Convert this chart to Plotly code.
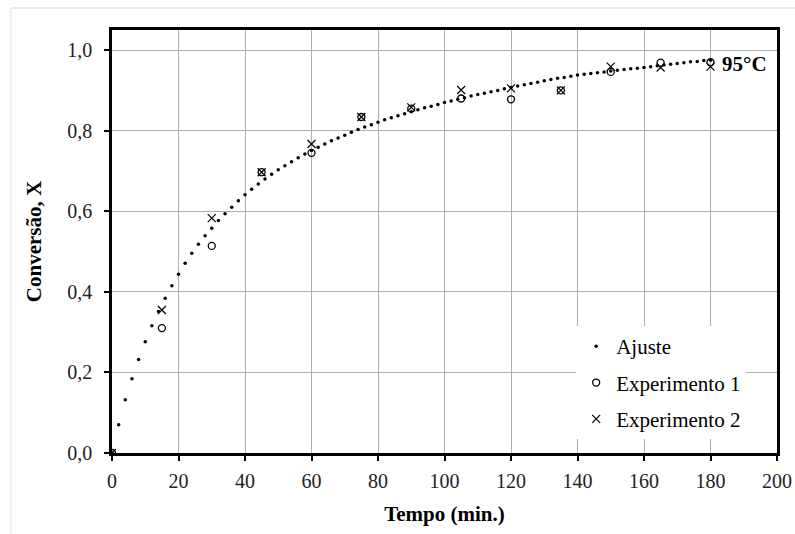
import plotly.graph_objects as go

# Fitted conversion curve (every 2 min)
fit_time = list(range(0, 182, 2))
fit_conv = [
    0.000, 0.070, 0.132, 0.184, 0.232, 0.276, 0.316, 0.351, 0.384, 0.415,
    0.444, 0.471, 0.496, 0.518, 0.539, 0.558, 0.577, 0.594, 0.610, 0.626,
    0.641, 0.655, 0.668, 0.680, 0.692, 0.703, 0.713, 0.723, 0.733, 0.742,
    0.751, 0.759, 0.767, 0.775, 0.782, 0.789, 0.796, 0.803, 0.809, 0.815,
    0.821, 0.827, 0.832, 0.837, 0.842, 0.847, 0.852, 0.857, 0.861, 0.865,
    0.870, 0.874, 0.878, 0.882, 0.886, 0.890, 0.893, 0.897, 0.900, 0.904,
    0.907, 0.911, 0.914, 0.917, 0.920, 0.924, 0.927, 0.930, 0.932, 0.935,
    0.938, 0.940, 0.942, 0.944, 0.946, 0.948, 0.950, 0.952, 0.954, 0.955,
    0.957, 0.959, 0.961, 0.963, 0.965, 0.967, 0.969, 0.971, 0.972, 0.974,
    0.975,
]

# Experimental sampling times (min)
exp_time = [0, 15, 30, 45, 60, 75, 90, 105, 120, 135, 150, 165, 180]
exp1_conv = [0.0, 0.310, 0.514, 0.697, 0.745, 0.834, 0.855, 0.880, 0.878, 0.900, 0.946, 0.969, 0.970]
exp2_conv = [0.0, 0.355, 0.583, 0.697, 0.767, 0.834, 0.858, 0.901, 0.905, 0.900, 0.959, 0.957, 0.959]

x_ticks = list(range(0, 201, 20))
y_ticks = [0.0, 0.2, 0.4, 0.6, 0.8, 1.0]
y_tick_text = ["0,0", "0,2", "0,4", "0,6", "0,8", "1,0"]

SERIF = "Liberation Serif"
GRID = "#a3b3b3"

fig = go.Figure()

fig.add_trace(go.Scatter(
    x=fit_time, y=fit_conv, mode="markers", name="Ajuste",
    legendgroup="a",
    marker=dict(symbol="circle", size=3.5, color="black"),
))
fig.add_trace(go.Scatter(
    x=exp_time, y=exp1_conv, mode="markers", name="Experimento 1",
    legendgroup="b",
    marker=dict(symbol="circle-open", size=7, color="black",
                line=dict(width=1.3, color="black")),
))
fig.add_trace(go.Scatter(
    x=exp_time, y=exp2_conv, mode="markers", name="Experimento 2",
    legendgroup="c",
    marker=dict(symbol="x-thin-open", size=8, color="black",
                line=dict(width=1.2, color="black")),
))

fig.add_annotation(
    x=180, y=0.970, xref="x", yref="y", text="<b>95°C</b>",
    showarrow=False, xanchor="left", yanchor="middle", xshift=9, yshift=-2,
    font=dict(family=SERIF, size=21, color="black"),
)

# light outer frame of the chart area (top and left edges)
fig.add_shape(type="line", xref="paper", yref="paper",
              x0=-0.152, x1=1.05, y0=1.052, y1=1.052,
              line=dict(color="#d4d4d4", width=1))
fig.add_shape(type="line", xref="paper", yref="paper",
              x0=-0.152, x1=-0.152, y0=1.052, y1=-0.25,
              line=dict(color="#e4e4e4", width=1))

fig.update_xaxes(
    range=[0, 200], tickvals=x_ticks, ticks="outside", ticklen=5,
    tickwidth=1.5, tickcolor="black", ticklabelstandoff=3,
    showline=True, linewidth=2.5, linecolor="black", mirror=True,
    showgrid=True, gridcolor=GRID, gridwidth=1.3, zeroline=False,
    tickfont=dict(family=SERIF, size=20, color="#222"),
    title=dict(text="<b>Tempo (min.)</b>", standoff=16,
               font=dict(family=SERIF, size=21, color="black")),
)
fig.update_yaxes(
    range=[0, 1.05], tickvals=y_ticks, ticktext=y_tick_text,
    ticks="outside", ticklen=5, tickwidth=1.5, tickcolor="black",
    ticklabelstandoff=8,
    showline=True, linewidth=2.5, linecolor="black", mirror=True,
    showgrid=True, gridcolor=GRID, gridwidth=1.3, zeroline=False,
    tickfont=dict(family=SERIF, size=20, color="#222"),
    title=dict(text="<b>Conversão, X</b>", standoff=20,
               font=dict(family=SERIF, size=21, color="black")),
)

fig.update_layout(
    width=795, height=534,
    margin=dict(l=112, r=18, t=30, b=81, autoexpand=False),
    plot_bgcolor="white", paper_bgcolor="white",
    showlegend=True,
    legend=dict(
        x=0.698, y=0.30, xanchor="left", yanchor="top",
        bgcolor="white", borderwidth=0,
        font=dict(family=SERIF, size=21, color="black"),
        traceorder="grouped", tracegroupgap=6,
    ),
)

fig.write_html("out.html")
